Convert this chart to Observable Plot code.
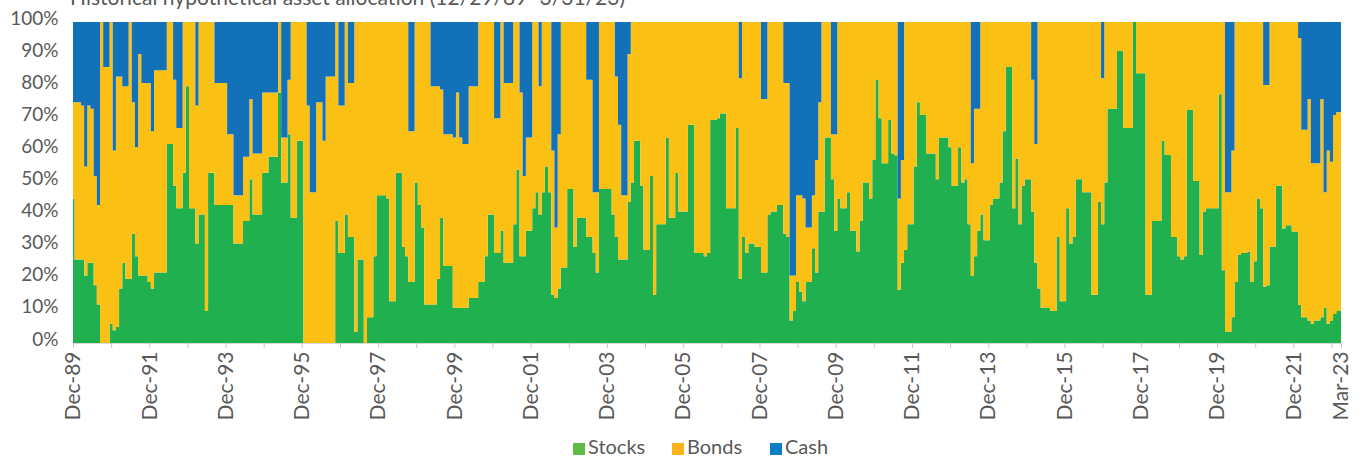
<!DOCTYPE html>
<html><head><meta charset="utf-8">
<script src="https://cdn.jsdelivr.net/npm/d3@7"></script>
<script src="https://cdn.jsdelivr.net/npm/@observablehq/plot@0.6"></script>
<style>
body{margin:0;background:#fff;font-family:Lato,"Open Sans",sans-serif;width:1366px;height:458px;overflow:hidden;position:relative}
#title{position:absolute;left:70px;top:-14px;font-size:21px;line-height:21px;color:#595959;white-space:nowrap}
#chart{position:absolute;left:0;top:0}
.leg{position:absolute;top:435px;font-size:20px;line-height:23px;color:#595959;white-space:nowrap}
.leg span{display:inline-block;width:12px;height:12px;margin-right:3px;vertical-align:-1px}
</style></head>
<body>
<div id="title">Historical hypothetical asset allocation (12/29/89–3/31/23)</div>
<div id="chart"></div>
<div class="leg" style="left:573px"><span style="background:#5DBB46"></span>Stocks</div>
<div class="leg" style="left:672px"><span style="background:#FBB21A"></span>Bonds</div>
<div class="leg" style="left:770px"><span style="background:#0A7DC6"></span>Cash</div>
<script>
// Monthly allocation, Dec-89 (index 0) to Mar-23 (index 399), in percent
const stocks = [
45,26,26,26,21,25,25,18,12,0,
0,0,6,4,5,17,25,20,20,34,
27,21,21,21,19,17,22,22,22,22,
62,62,49,42,42,53,80,42,42,31,
40,40,10,53,53,43,43,43,43,43,
43,31,31,31,38,38,51,40,40,40,
53,53,58,58,58,78,50,50,65,39,
39,63,63,0,0,0,0,0,0,0,
0,0,0,38,28,28,40,33,33,3.5,
26,26,0,8,8,27,46,46,46,45,
13,13,53,53,30,27,19,19,50,43,
36,12,12,12,12,20,39,24,24,24,
11,11,11,11,11,14,14,14,19,19,
27,40,40,28,28,35,25,25,25,37,
54,27,27,35,35,42,47,40,47,55,
47,15,14,17,23.5,23.5,48,48,30,39,
39,39,33,33,28,22,48,48,48,48,
40,33,26,26,26,44,50,63,63,49,
29,29,52,15,37,37,37,64,39,39,
53,41,41,41,68,68,28,28,28,27,
28,69.5,69.5,70,71.5,71.5,42,42,42,67,
20,33,28,31,31,30,30,22,22,40,
41,41,43,43,34,33,7,10,19,16,
13,19,19,29.5,22,41,41,64,64,51,
35,45,42,42,47,35,35,28.5,38,50,
50,45,57,82,70,56,56,69.5,59,58.5,
16.5,25,29,37,37,55,75,71,71,59,
59,59,51,64,64,64,61,49,49,61,
50,51,37,21,27,35,40,32,32,43,
45,45,50,66,86,86,42,57.5,37,49,
51,51,41,25,17,11,11,11,10,10,
33,13,13,42,31,33,51,51,47,47,
47,15,15,44,37,50,73,73,73,91,
91,67,67,67,100,84,84,84,15,15,
38,38,38,63,58.6,58.6,33,33,27,26,
27,72.6,72.6,50.5,50.5,27.4,41,42,42,42,
42,77.5,22.7,3.5,3.5,8,19,27.4,28,28,
28.5,19,25.5,45,42,17.5,18,30,30,49,
49,35.7,36.7,36.7,34.7,34.7,11.8,8,8,7,
6,7,7,8,11,6,7,9,10,10
];
const cash = [
25,25,25,26,45,26,27,48,57,0,
14,14,0,40,17,17,20,20,0,25,
39,10,19,19,19,34,15,15,15,15,
0,0,18,33,33,0,0,0,0,26,
0,0,0,0,0,19,19,19,19,35,
35,54,54,54,42,42,24,41,41,41,
22,22,22,22,22,0,36,36,18,0,
0,0,0,0,26,53,53,25,25,37,
17,17,17,0,26,26,0,19,19,0,
0,0,0,0,0,0,0,0,0,0,
0,0,0,0,0,0,34,34,0,0,
0,0,0,20,20,20,21,35,35,35,
36,22,36,38,38,20,20,20,0,0,
0,0,0,30,30,0,19,19,19,0,
0,22,48,36,36,0,0,20,0,0,
0,40,64,35,0,0,0,0,0,0,
0,0,18,18,53,53,0,0,0,0,
0,17,32,54,54,10,0,0,0,0,
0,0,0,0,0,0,0,0,0,0,
0,0,0,0,0,0,0,0,0,0,
0,0,0,0,0,0,0,0,0,0,
17.5,0,0,0,0,0,0,24,24,0,
0,0,0,0,19,19,79,79,54,54,
55,64,64,54,43,25,0,0,0,35,
35,0,0,0,0,0,0,0,0,0,
0,0,0,0,0,0,0,0,0,0,
55,43,0,0,0,0,0,0,0,0,
0,0,0,0,0,0,0,0,0,0,
0,0,0,44,27,27,0,0,0,0,
0,0,0,0,0,0,0,0,0,0,
0,0,18,38,0,0,0,0,0,0,
0,0,0,0,0,0,0,0,0,0,
0,0,0,0,17.5,0,0,0,0,0,
0,0,0,0,0,0,0,0,0,0,
0,0,0,0,0,0,0,0,0,0,
0,0,0,0,0,0,0,0,0,0,
0,0,0,53,53,40,0,0,0,0,
0,0,0,0,0,19.6,19.6,0,0,0,
0,0,0,0,0,0,5,33.6,33.6,24,
44,44,44,24,53,40,43.5,29,28,28
];
const series = ["Stocks", "Bonds", "Cash"];
const seriesColors = ["#21B04F", "#FBC014", "#1271B9"];
const xTickLabels = ["Dec-89","Dec-91","Dec-93","Dec-95","Dec-97","Dec-99","Dec-01","Dec-03","Dec-05","Dec-07","Dec-09","Dec-11","Dec-13","Dec-15","Dec-17","Dec-19","Dec-21","Mar-23"];
const yTicks = [0,10,20,30,40,50,60,70,80,90,100];

const lastIndex = stocks.length - 1;
const rows = [];
stocks.forEach((s, i) => {
  const c = cash[i];
  const b = Math.max(0, 100 - s - c);
  rows.push({m: i, type: "Stocks", value: s});
  rows.push({m: i, type: "Bonds", value: b});
  rows.push({m: i, type: "Cash", value: c});
});

// month index of each label: Dec-YY -> (year-1989)*12, Mar-23 -> last index
function labelIndex(l) {
  const yy = +l.slice(4);
  const year = yy >= 50 ? 1900 + yy : 2000 + yy;
  return l.startsWith("Dec") ? (year - 1989) * 12 : lastIndex;
}
const labelMap = new Map(xTickLabels.map(l => [labelIndex(l), l]));
const tickPos = d3.range(0, lastIndex, 12).concat([lastIndex]);

const plot = Plot.plot({
  width: 1366, height: 425,
  marginLeft: 73, marginRight: 25, marginTop: 22, marginBottom: 82,
  style: {fontFamily: "Lato, 'Open Sans', sans-serif", fontSize: "17px", color: "#595959", background: "transparent"},
  x: {domain: [0, lastIndex]},
  y: {domain: [0, 100]},
  color: {domain: series, range: seriesColors},
  marks: [
    Plot.ruleY([100], {stroke: "#d9d9d9"}),
    Plot.areaY(rows, {x: "m", y: "value", fill: "type", order: series, curve: "step"}),
    Plot.ruleY([0], {stroke: "#d9d9d9"}),
    Plot.axisX({ticks: tickPos, tickFormat: d => labelMap.get(d) || "", tickRotate: -90, tickSize: 5, tickPadding: 3, fontSize: 21, stroke: "#c8c8c8", fill: "#595959", label: null}),
    Plot.axisY({ticks: yTicks, tickFormat: d => d + "%", tickSize: 0, tickPadding: 15, dy: -4, fontSize: 19, fill: "#595959", label: null})
  ]
});
document.getElementById("chart").appendChild(plot);
</script>
</body></html>
